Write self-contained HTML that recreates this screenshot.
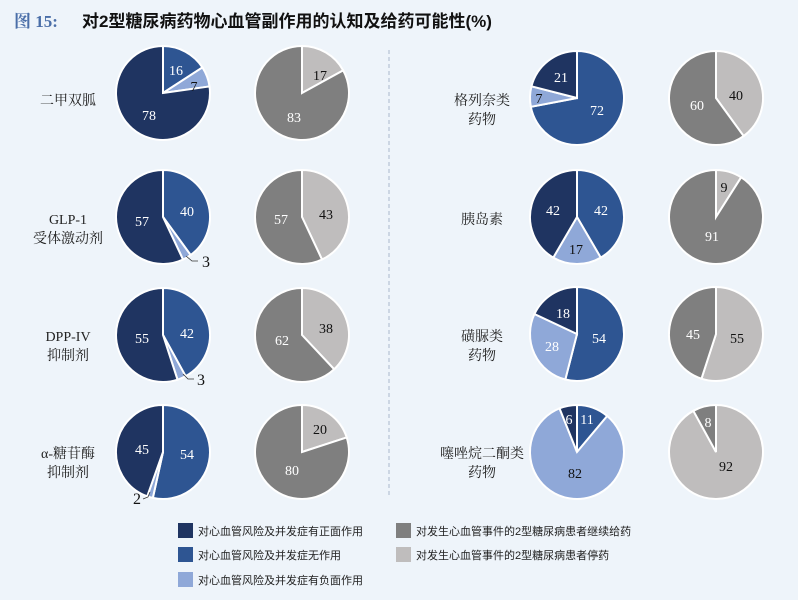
<!DOCTYPE html>
<html><head><meta charset="utf-8"><style>
body{margin:0;background:#eef4fa;}
svg{display:block;font-family:"Liberation Serif","Noto Serif CJK SC",serif;}
</style></head><body>
<svg id="s" width="798" height="600" xmlns="http://www.w3.org/2000/svg">
<rect width="798" height="600" fill="#eef4fa"/>
<text x="14" y="27" font-size="17" font-weight="bold" fill="#4a6ea8" font-family="Liberation Serif,Noto Serif CJK SC,serif">图 15:</text>
<text x="82" y="27" font-size="17" font-weight="bold" fill="#111" font-family="Liberation Sans,Noto Sans CJK SC,sans-serif">对2型糖尿病药物心血管副作用的认知及给药可能性(%)</text>
<line x1="389" y1="50" x2="389" y2="497" stroke="#a9b9cc" stroke-dasharray="4,3"/>
<g id="pies"></g>
<g stroke="#333" stroke-width="0.8" fill="none">
<polyline points="186,256 192,261 198,261"/>
<polyline points="183,374 188,379 194,379"/>
<polyline points="150,492 148,497 143,499"/>
</g>
<g font-size="14" fill="#222" text-anchor="middle">
<text x="68" y="105">二甲双胍</text>
<text x="68" y="224">GLP-1</text><text x="68" y="243">受体激动剂</text>
<text x="68" y="341">DPP-IV</text><text x="68" y="360">抑制剂</text>
<text x="68" y="458">α-糖苷酶</text><text x="68" y="477">抑制剂</text>
<text x="482" y="105">格列奈类</text><text x="482" y="124">药物</text>
<text x="482" y="224">胰岛素</text>
<text x="482" y="341">磺脲类</text><text x="482" y="360">药物</text>
<text x="482" y="458">噻唑烷二酮类</text><text x="482" y="477">药物</text>
</g>
<g font-size="14" text-anchor="middle">
<text x="176" y="75" fill="#fff">16</text><text x="194" y="91" fill="#111">7</text><text x="149" y="120" fill="#fff">78</text>
<text x="320" y="80" fill="#111">17</text><text x="294" y="122" fill="#fff">83</text>
<text x="187" y="216" fill="#fff">40</text><text x="142" y="226" fill="#fff">57</text><text x="206" y="267" fill="#111" font-size="16">3</text>
<text x="326" y="219" fill="#111">43</text><text x="281" y="224" fill="#fff">57</text>
<text x="187" y="338" fill="#fff">42</text><text x="142" y="343" fill="#fff">55</text><text x="201" y="385" fill="#111" font-size="16">3</text>
<text x="326" y="333" fill="#111">38</text><text x="282" y="345" fill="#fff">62</text>
<text x="187" y="459" fill="#fff">54</text><text x="142" y="454" fill="#fff">45</text><text x="137" y="504" fill="#111" font-size="16">2</text>
<text x="320" y="434" fill="#111">20</text><text x="292" y="475" fill="#fff">80</text>
<text x="561" y="82" fill="#fff">21</text><text x="539" y="103" fill="#111">7</text><text x="597" y="115" fill="#fff">72</text>
<text x="736" y="100" fill="#111">40</text><text x="697" y="110" fill="#fff">60</text>
<text x="553" y="215" fill="#fff">42</text><text x="601" y="215" fill="#fff">42</text><text x="576" y="254" fill="#111">17</text>
<text x="724" y="192" fill="#111">9</text><text x="712" y="241" fill="#fff">91</text>
<text x="563" y="318" fill="#fff">18</text><text x="552" y="351" fill="#fff">28</text><text x="599" y="343" fill="#fff">54</text>
<text x="737" y="343" fill="#111">55</text><text x="693" y="339" fill="#fff">45</text>
<text x="569" y="424" fill="#fff">6</text><text x="587" y="424" fill="#fff">11</text><text x="575" y="478" fill="#111">82</text>
<text x="708" y="427" fill="#fff">8</text><text x="726" y="471" fill="#111">92</text>
</g>
<g font-size="11" fill="#222" font-family="Liberation Sans,Noto Sans CJK SC,sans-serif">
<rect x="178" y="523" width="15" height="15" fill="#1f3461"/><text x="198" y="535">对心血管风险及并发症有正面作用</text>
<rect x="178" y="547" width="15" height="15" fill="#2e5592"/><text x="198" y="559">对心血管风险及并发症无作用</text>
<rect x="178" y="572" width="15" height="15" fill="#8fa8d8"/><text x="198" y="584">对心血管风险及并发症有负面作用</text>
<rect x="396" y="523" width="15" height="15" fill="#7f7f7f"/><text x="416" y="535">对发生心血管事件的2型糖尿病患者继续给药</text>
<rect x="396" y="547" width="15" height="15" fill="#bfbdbd"/><text x="416" y="559">对发生心血管事件的2型糖尿病患者停药</text>
</g>
</svg>
<script>
var B=["#2e5592","#8fa8d8","#1f3461"],G=["#bfbdbd","#7f7f7f"];
var P=[[163,93,[16,7,78],B],[302,93,[17,83],G],[163,217,[40,3,57],B],[302,217,[43,57],G],
[163,335,[42,3,55],B],[302,335,[38,62],G],[163,452,[54,2,45],B],[302,452,[20,80],G],
[577,98,[72,7,21],B],[716,98,[40,60],G],[577,217,[42,17,42],B],[716,217,[9,91],G],
[577,334,[54,28,18],B],[716,334,[55,45],G],[577,452,[11,82,6],B],[716,452,[92,8],G]];
var g=document.getElementById("pies"),s="",r=47;
P.forEach(function(p){var t=p[2].reduce(function(a,b){return a+b},0),a=0;
p[2].forEach(function(v,i){var a0=a/t*2*Math.PI,a1=(a+v)/t*2*Math.PI;a+=v;
var x0=p[0]+r*Math.sin(a0),y0=p[1]-r*Math.cos(a0),x1=p[0]+r*Math.sin(a1),y1=p[1]-r*Math.cos(a1);
s+='<path d="M'+p[0]+' '+p[1]+'L'+x0+' '+y0+'A'+r+' '+r+' 0 '+(a1-a0>Math.PI?1:0)+' 1 '+x1+' '+y1+'Z" fill="'+p[3][i]+'" stroke="#fff" stroke-width="2"/>';});});
g.innerHTML=s;
</script>
</body></html>
